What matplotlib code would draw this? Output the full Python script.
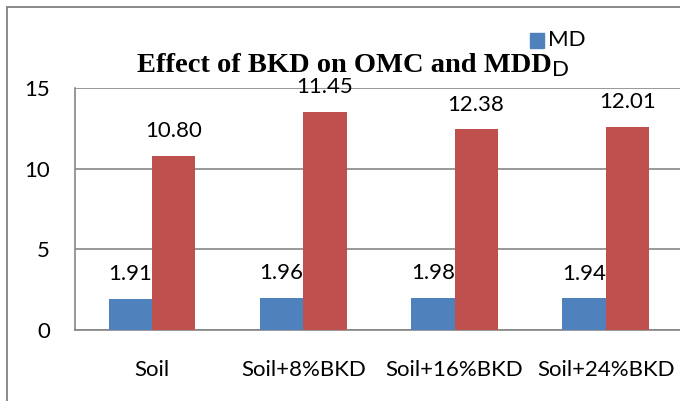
import numpy as np
import matplotlib
matplotlib.use('Agg')
import matplotlib.pyplot as plt
from matplotlib.patches import Rectangle

# data
categories = ['Soil', 'Soil+8%BKD', 'Soil+16%BKD', 'Soil+24%BKD']
mdd = [1.91, 1.96, 1.98, 1.94]
omc = [10.82, 13.55, 12.46, 12.62]
mdd_labels = ['1.91', '1.96', '1.98', '1.94']
omc_labels = ['10.80', '11.45', '12.38', '12.01']
yticks = [0, 5, 10, 15]

W, H = 680, 401
blue = '#4F81BD'
red = '#C0504D'
gray = '#868686'
font = 'Lato'

fig = plt.figure(figsize=(W / 100, H / 100), dpi=100)
ax = fig.add_axes([75 / W, 71.5 / H, (681.3 - 75) / W, (312.7 - 71.5) / H])

x = np.arange(len(categories))
w = 0.286
b1 = ax.bar(x - w / 2, mdd, w, color=blue, zorder=3)
b2 = ax.bar(x + w / 2, omc, w, color=red, zorder=3)

# data labels above the bars
for bars, labels in ((b1, mdd_labels), (b2, omc_labels)):
    for bar, lab in zip(bars, labels):
        ax.annotate(lab, (bar.get_x() + bar.get_width() / 2, bar.get_height()),
                    xytext=(0, 18.5), textcoords='offset pixels',
                    ha='center', va='baseline', fontsize=16, family=font,
                    zorder=5)

ax.set_xlim(-0.51, 3.5)
ax.set_ylim(0, 15)
ax.set_yticks(yticks)
ax.set_xticks(x)
ax.set_xticklabels(categories)
ax.yaxis.grid(True, color=gray, lw=1.2, zorder=0)
ax.set_axisbelow(True)
for s in ['top', 'right']:
    ax.spines[s].set_visible(False)
for s in ['left', 'bottom']:
    ax.spines[s].set_color(gray)
    ax.spines[s].set_linewidth(1.2)
ax.tick_params(axis='y', length=0, pad=18, labelsize=16)
ax.tick_params(axis='x', length=0, pad=22, labelsize=16)
for lab in ax.get_xticklabels() + ax.get_yticklabels():
    lab.set_family(font)

# title
fig.text(344.5 / W, (H - 72.5) / H, 'Effect of BKD on OMC and MDD',
         ha='center', va='baseline', family='Liberation Serif',
         weight='bold', fontsize=20.5)

# legend (only the MDD entry shows, wrapped)
fig.add_artist(Rectangle((530 / W, (H - 48) / H), 14 / W, 15 / H,
                         transform=fig.transFigure, color=blue))
fig.text(548 / W, (H - 40.5) / H, 'MD', ha='left', va='center',
         family=font, fontsize=16)
fig.text(552 / W, (H - 69.5) / H, 'D', ha='left', va='center',
         family=font, fontsize=16)

# chart area border
fig.add_artist(Rectangle((7.3 / W, -0.05), 1.0, (H - 7.3) / H + 0.05,
                         transform=fig.transFigure, fill=False,
                         ec='#808080', lw=1.3))

fig.savefig('out.png', dpi=100)
